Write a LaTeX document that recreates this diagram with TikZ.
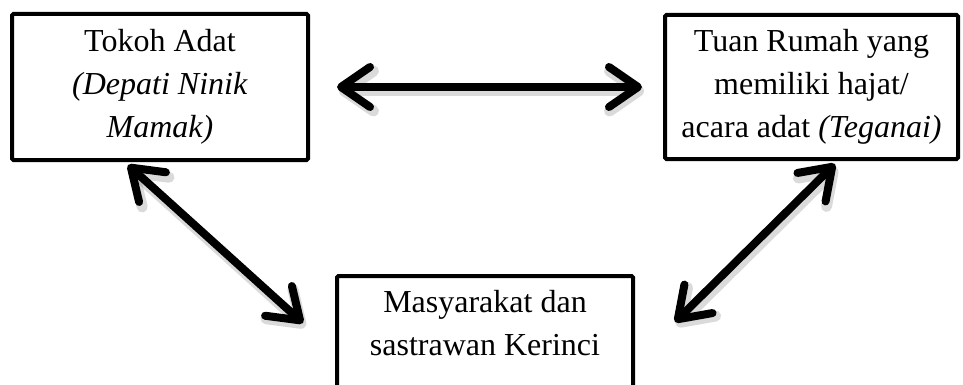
\documentclass[tikz,border=0pt]{standalone}
\usepackage{fontspec}
\setmainfont{Liberation Serif}
\usetikzlibrary{arrows.meta, calc}
\definecolor{inkblack}{RGB}{0, 0, 0}
\definecolor{shadowgrey}{RGB}{70, 70, 70}

\tikzset{
  peran/.style={draw=inkblack, line width=4pt, rounded corners=1.5pt, align=center,
    inner sep=0pt, font=\fontsize{32}{43}\selectfont},
  barb/.tip={Straight Barb[length=29pt, width=40pt, round]},
  hubung/.style={inkblack, line width=8pt, line cap=round, barb-barb,
    preaction={draw=shadowgrey, opacity=0.2, line width=11pt,
      transform canvas={shift={(2pt,-4pt)}}}}
}

\begin{document}
\begin{tikzpicture}[x=1pt, y=-1pt]
  \useasboundingbox (0,0) rectangle (963,385);
  \clip (0,0) rectangle (963,385);
  % The three parties
  \node[peran, minimum width=296pt, minimum height=146pt] (tokoh) at (160,87)
    {Tokoh Adat\\ \textit{(Depati Ninik}\\ \textit{Mamak)}};
  \node[peran, minimum width=293pt, minimum height=144pt] (tuan) at (811.5,87)
    {Tuan Rumah yang\\ memiliki hajat/\\ acara adat \textit{(Teganai)}};
  \node[peran, minimum width=296pt, minimum height=150pt] (warga) at (485,351)
    {Masyarakat dan\\ sastrawan Kerinci\\ \strut};
  % Two-way links between them
  \draw[hubung] ([xshift=27pt]tokoh.east) -- ([xshift=-21pt]tuan.west);
  \draw[hubung] ([shift={(118pt,-3pt)}]tokoh.south west) -- ([shift={(-32pt,-49pt)}]warga.north west);
  \draw[hubung] ([shift={(172pt,-3pt)}]tuan.south west) -- ([shift={(40pt,-48pt)}]warga.north east);
\end{tikzpicture}
\end{document}
